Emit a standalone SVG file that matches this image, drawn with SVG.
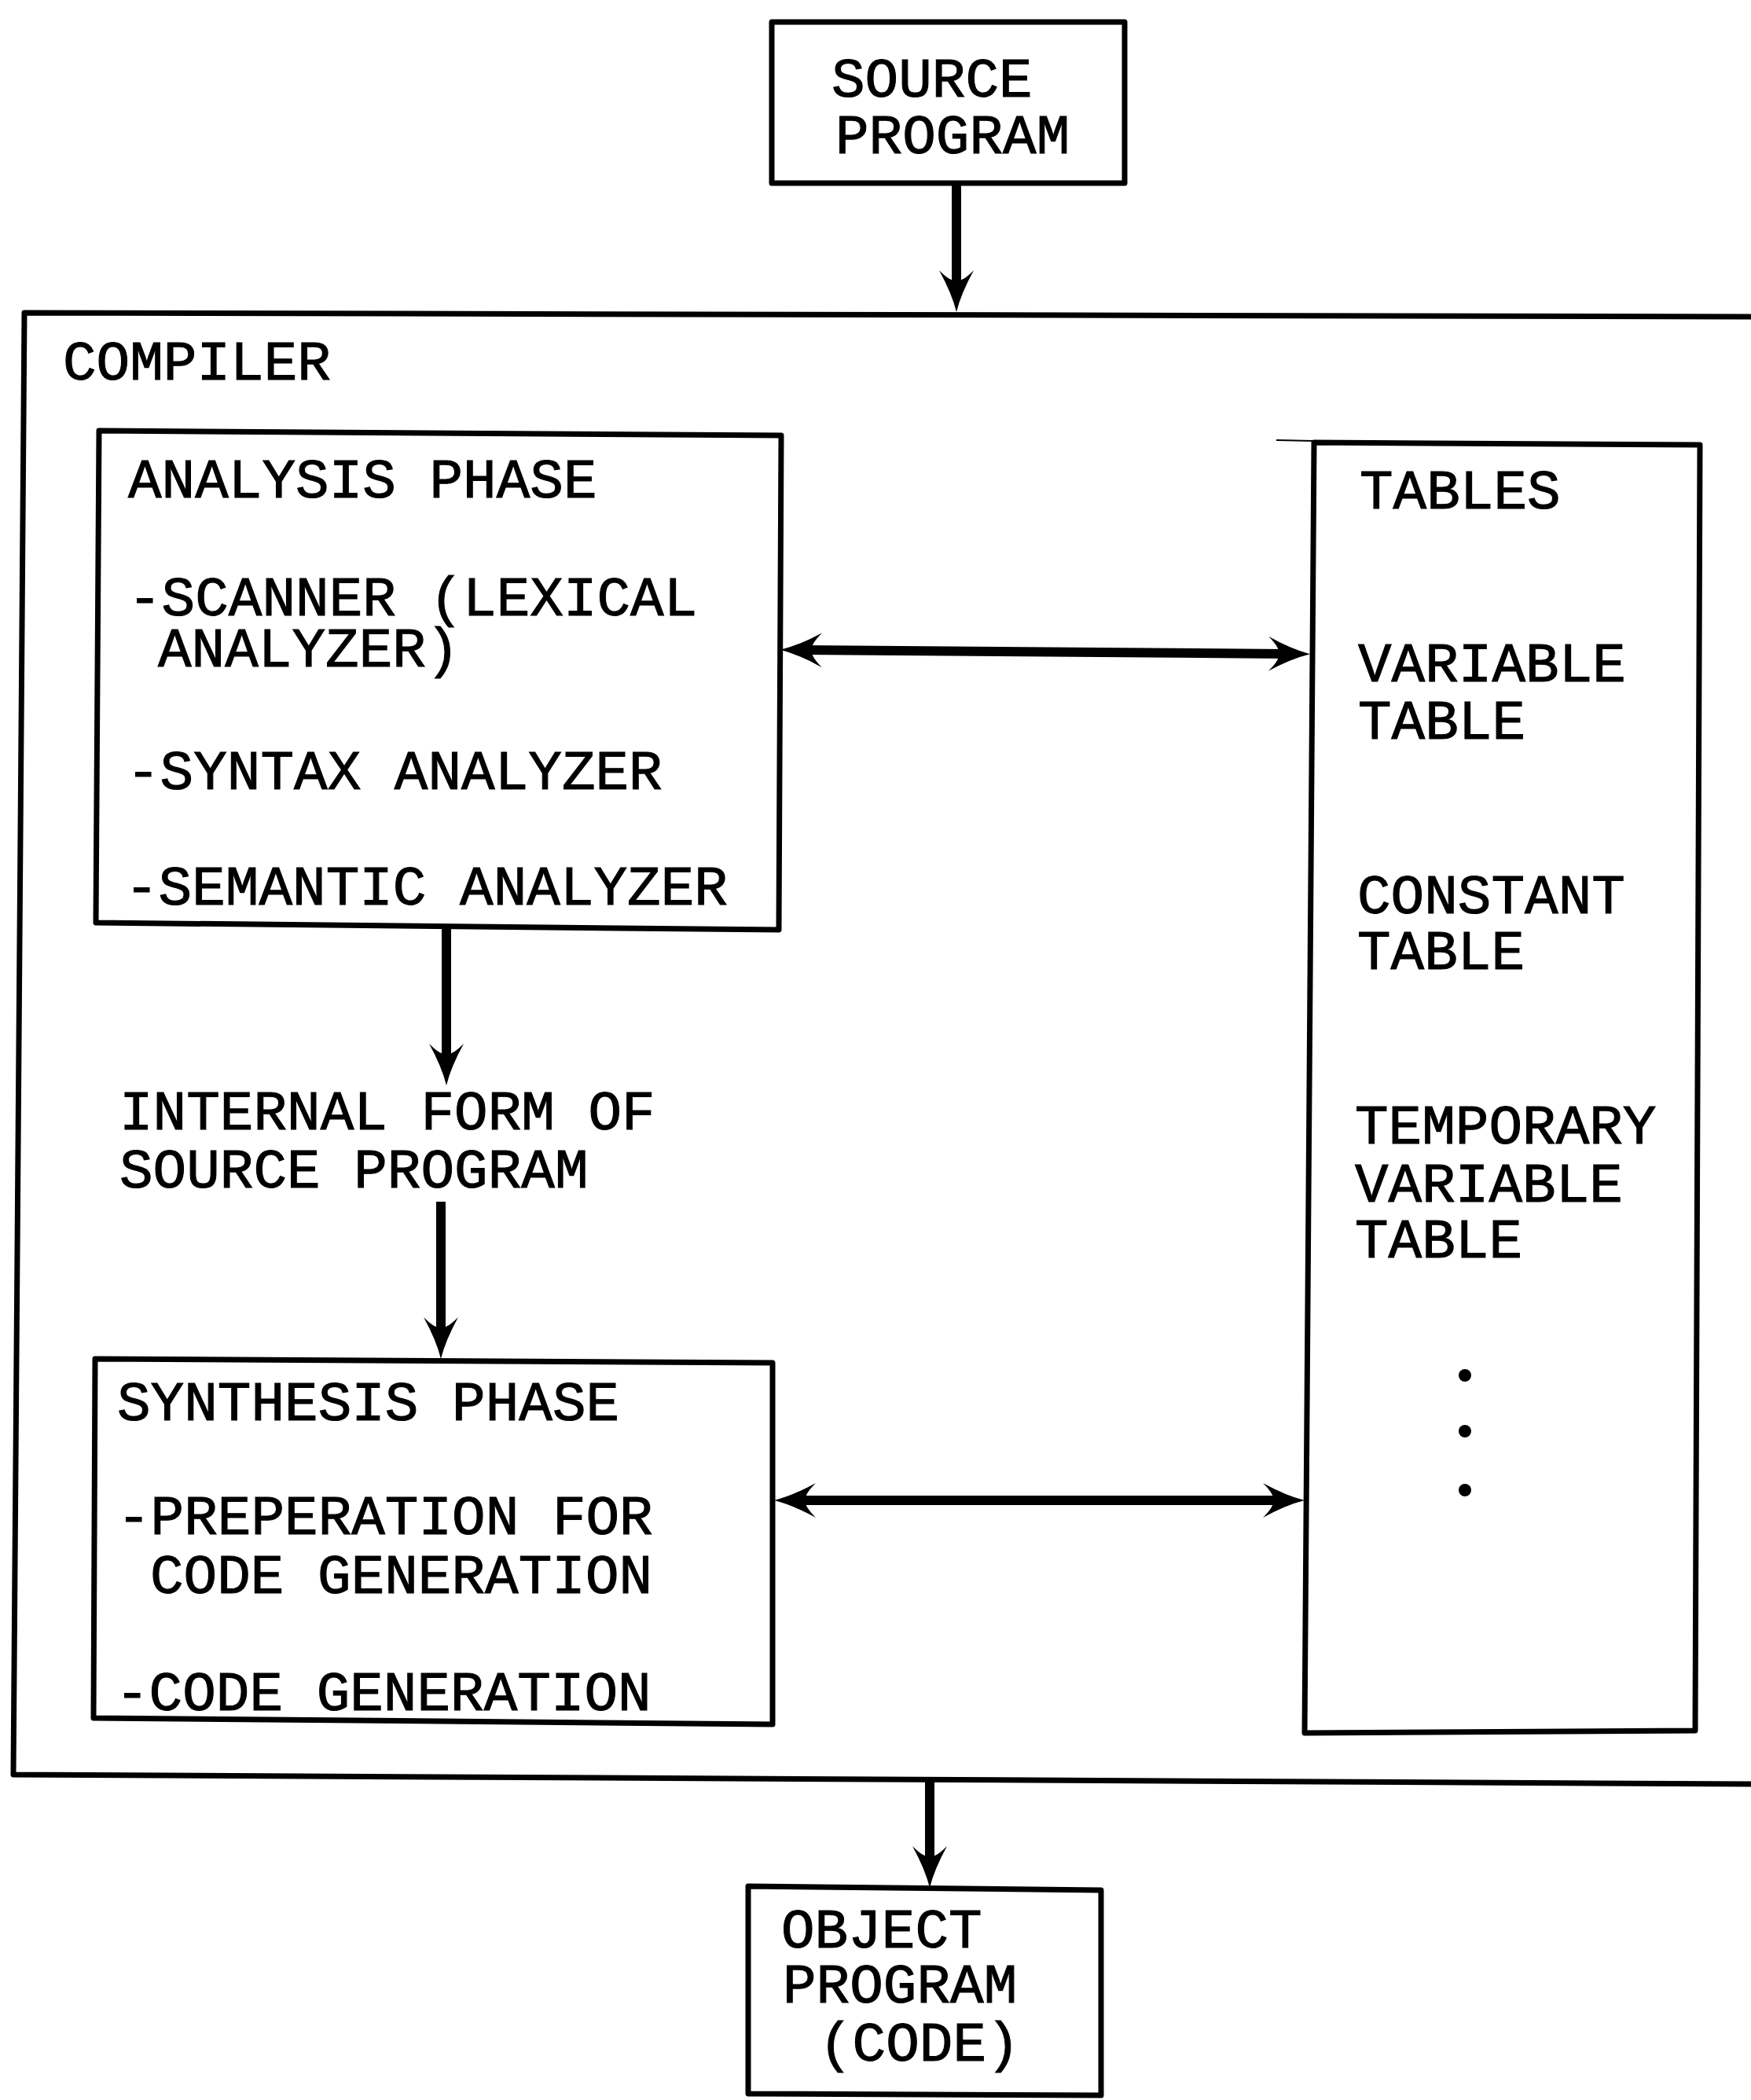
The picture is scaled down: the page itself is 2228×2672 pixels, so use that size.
<svg xmlns="http://www.w3.org/2000/svg" width="2228" height="2672" viewBox="0 0 2228 2672">
<style>
.t{font-family:"Liberation Mono","Courier New",monospace;font-size:71px;fill:#000;stroke:#000;stroke-width:1.1}
.box{fill:none;stroke:#000;stroke-width:7;stroke-linejoin:round}
.c{fill:none;stroke:#000;stroke-width:12}
</style>
<defs>
<marker id="ah" viewBox="-58 -25 60 50" markerWidth="60" markerHeight="50" refX="-30" refY="0" orient="auto-start-reverse" markerUnits="userSpaceOnUse">
<path d="M0,0 Q-24,-6 -53,-22 Q-38,-7 -40,0 Q-38,7 -53,22 Q-24,6 0,0 Z" fill="#000"/>
</marker>
</defs>
<rect width="2228" height="2672" fill="#fff"/>
<g id="source">
<rect class="box" x="982" y="28" width="449" height="205"/>
<text class="t" x="1058" y="123">SOURCE</text>
<text class="t" x="1063" y="195">PROGRAM</text>
</g>
<g id="compiler">
<path class="box" d="M2240,403 L31,398 L17,2258 L2240,2270"/>
<text class="t" x="80" y="483">COMPILER</text>
</g>
<g id="analysis">
<path class="box" d="M126,548 L994,554 L991,1183 L122,1174 Z"/>
<text class="t" x="163" y="633">ANALYSIS PHASE</text>
<text class="t" x="163" y="783">-SCANNER (LEXICAL</text>
<text class="t" x="201" y="848">ANALYZER)</text>
<text class="t" x="161" y="1004">-SYNTAX ANALYZER</text>
<text class="t" x="159" y="1151">-SEMANTIC ANALYZER</text>
</g>
<g id="internal">
<text class="t" x="152" y="1437">INTERNAL FORM OF</text>
<text class="t" x="152" y="1511">SOURCE PROGRAM</text>
</g>
<g id="synthesis">
<path class="box" d="M121,1729 L983,1734 L983,2194 L119,2186 Z"/>
<text class="t" x="149" y="1807">SYNTHESIS PHASE</text>
<text class="t" x="149" y="1952">-PREPERATION FOR</text>
<text class="t" x="191" y="2027">CODE GENERATION</text>
<text class="t" x="147" y="2176">-CODE GENERATION</text>
</g>
<g id="tables">
<line x1="1624" y1="560" x2="1670" y2="561" stroke="#000" stroke-width="2"/>
<path class="box" d="M1672,563 L2163,566 L2157,2202 L1660,2205 Z"/>
<text class="t" x="1730" y="647">TABLES</text>
<text class="t" x="1728" y="867">VARIABLE</text>
<text class="t" x="1728" y="940">TABLE</text>
<text class="t" x="1727" y="1162">CONSTANT</text>
<text class="t" x="1727" y="1233">TABLE</text>
<text class="t" x="1724" y="1455">TEMPORARY</text>
<text class="t" x="1724" y="1529">VARIABLE</text>
<text class="t" x="1724" y="1600">TABLE</text>
<circle cx="1864" cy="1750" r="8"/>
<circle cx="1864" cy="1821" r="8"/>
<circle cx="1864" cy="1896" r="8"/>
</g>
<g id="object">
<path class="box" d="M952,2400 L1401,2405 L1401,2666 L952,2664 Z"/>
<text class="t" x="994" y="2478">OBJECT</text>
<text class="t" x="996" y="2548">PROGRAM</text>
<text class="t" x="1042" y="2622">(CODE)</text>
</g>
<g id="connectors">
<line class="c" x1="1217" y1="233" x2="1217" y2="367" marker-end="url(#ah)"/>
<line class="c" x1="1023" y1="827" x2="1637" y2="832" marker-start="url(#ah)" marker-end="url(#ah)"/>
<line class="c" x1="568" y1="1180" x2="568" y2="1351" marker-end="url(#ah)"/>
<line class="c" x1="561" y1="1529" x2="561" y2="1699" marker-end="url(#ah)"/>
<line class="c" x1="1015" y1="1909" x2="1630" y2="1909" marker-start="url(#ah)" marker-end="url(#ah)"/>
<line class="c" x1="1183" y1="2262" x2="1183" y2="2372" marker-end="url(#ah)"/>
</g>
</svg>
